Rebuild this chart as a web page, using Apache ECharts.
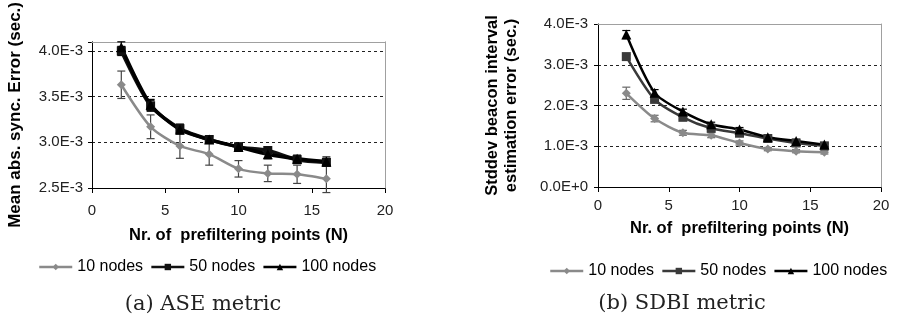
<!DOCTYPE html>
<html>
<head>
<meta charset="utf-8">
<script src="https://cdn.jsdelivr.net/npm/echarts@6/dist/echarts.min.js"></script>
<style>
  html, body { margin: 0; padding: 0; background: #ffffff; }
  #chart { width: 898px; height: 321px; }
</style>
</head>
<body>
<div id="chart"></div>
<script>
// Number of prefiltering points N
const prefilterN = [2, 4, 6, 8, 10, 12, 14, 16];
const seriesNames = ['10 nodes', '50 nodes', '100 nodes'];

// (a) ASE: mean absolute synchronisation error (seconds) and error-bar half widths
const ase10 = [3.63e-3, 3.17e-3, 2.96e-3, 2.87e-3, 2.71e-3, 2.66e-3, 2.65e-3, 2.60e-3];
const ase10Err = [0.15e-3, 0.13e-3, 0.135e-3, 0.12e-3, 0.09e-3, 0.09e-3, 0.10e-3, 0.15e-3];
const ase50 = [4.00e-3, 3.40e-3, 3.15e-3, 3.03e-3, 2.95e-3, 2.91e-3, 2.81e-3, 2.78e-3];
const ase50Err = [0.05e-3, 0.06e-3, 0.05e-3, 0.04e-3, 0.04e-3, 0.04e-3, 0.04e-3, 0.04e-3];
const ase100 = [4.04e-3, 3.41e-3, 3.14e-3, 3.03e-3, 2.95e-3, 2.87e-3, 2.82e-3, 2.79e-3];
const ase100Err = [0.06e-3, 0.06e-3, 0.05e-3, 0.04e-3, 0.04e-3, 0.05e-3, 0.04e-3, 0.05e-3];

// (b) SDBI: stddev of beacon interval estimation error (seconds)
const sdbi10 = [2.30e-3, 1.68e-3, 1.33e-3, 1.27e-3, 1.08e-3, 0.93e-3, 0.88e-3, 0.85e-3];
const sdbi10Err = [0.15e-3, 0.08e-3, 0.06e-3, 0.06e-3, 0.05e-3, 0.04e-3, 0.04e-3, 0.04e-3];
const sdbi50 = [3.20e-3, 2.15e-3, 1.71e-3, 1.44e-3, 1.32e-3, 1.19e-3, 1.08e-3, 1.01e-3];
const sdbi50Err = [0.05e-3, 0.05e-3, 0.05e-3, 0.04e-3, 0.04e-3, 0.04e-3, 0.04e-3, 0.04e-3];
const sdbi100 = [3.74e-3, 2.31e-3, 1.85e-3, 1.54e-3, 1.41e-3, 1.22e-3, 1.13e-3, 1.04e-3];
const sdbi100Err = [0.10e-3, 0.08e-3, 0.06e-3, 0.05e-3, 0.05e-3, 0.05e-3, 0.04e-3, 0.04e-3];

const FONT = 'Liberation Sans, Arial, sans-serif';
const GRAY = '#8a8a8a';

function sciLabel(step) {
  return function (v) {
    const k = v / step;
    if (Math.abs(k - Math.round(k)) > 1e-6) return '';
    return v.toExponential(1).toUpperCase();
  };
}

function pairs(vals) {
  return prefilterN.map((n, i) => [n, vals[i]]);
}

function errData(vals, errs) {
  return prefilterN.map((n, i) => [n, vals[i] - errs[i], vals[i] + errs[i]]);
}

function errorSeries(xi, yi, vals, errs, color) {
  return {
    type: 'custom',
    xAxisIndex: xi, yAxisIndex: yi,
    silent: true, z: 3,
    data: errData(vals, errs),
    renderItem: function (params, api) {
      const top = api.coord([api.value(0), api.value(2)]);
      const bot = api.coord([api.value(0), api.value(1)]);
      const w = 4;
      const style = { stroke: color, lineWidth: 1.2 };
      return {
        type: 'group',
        children: [
          { type: 'line', shape: { x1: top[0], y1: top[1], x2: bot[0], y2: bot[1] }, style: style },
          { type: 'line', shape: { x1: top[0] - w, y1: top[1], x2: top[0] + w, y2: top[1] }, style: style },
          { type: 'line', shape: { x1: bot[0] - w, y1: bot[1], x2: bot[0] + w, y2: bot[1] }, style: style }
        ]
      };
    }
  };
}

function lineSeries(name, xi, yi, vals, color, symbol, size, width) {
  return {
    name: name, type: 'line',
    xAxisIndex: xi, yAxisIndex: yi,
    data: pairs(vals),
    smooth: 0.25,
    symbol: symbol, symbolSize: size,
    itemStyle: { color: color },
    lineStyle: { color: color, width: width },
    z: 4
  };
}

function bottomX(gi, labelMargin, nameGap) {
  return {
    type: 'value', gridIndex: gi, min: 0, max: 20, interval: 5,
    axisLine: { onZero: false, lineStyle: { color: '#000', width: 1 } },
    axisTick: { show: true, length: 5, lineStyle: { color: '#000' } },
    axisLabel: { margin: labelMargin, fontFamily: FONT, fontSize: 15, color: '#222' },
    splitLine: { show: false },
    name: 'Nr. of  prefiltering points (N)', nameLocation: 'middle', nameGap: nameGap,
    nameTextStyle: { fontFamily: FONT, fontSize: 16.5, fontWeight: 'bold', color: '#000' }
  };
}

function frameX(gi) {
  return {
    type: 'value', gridIndex: gi, position: 'top', min: 0, max: 20, z: 2,
    axisLine: { onZero: false, lineStyle: { color: '#a0a0a0', width: 1 } },
    axisTick: { show: false }, axisLabel: { show: false }, splitLine: { show: false }
  };
}

function frameY(gi, min, max) {
  return {
    type: 'value', gridIndex: gi, position: 'right', min: min, max: max, z: 2,
    axisLine: { show: true, onZero: false, lineStyle: { color: '#a0a0a0', width: 1 } },
    axisTick: { show: false }, axisLabel: { show: false }, splitLine: { show: false }
  };
}

const legendText = { fontFamily: FONT, fontSize: 16, color: '#000' };

function legendItems(midColor) {
  return [
    { name: seriesNames[0], itemStyle: { color: GRAY }, lineStyle: { color: GRAY, width: 2.5 } },
    { name: seriesNames[1], itemStyle: { color: midColor }, lineStyle: { color: midColor, width: 2.5 } },
    { name: seriesNames[2], itemStyle: { color: '#000' }, lineStyle: { color: '#000', width: 2.5 } }
  ];
}

const option = {
  animation: false,
  backgroundColor: '#ffffff',
  grid: [
    { left: 92, top: 26, width: 293, height: 162 },
    { left: 598, top: 24, width: 283, height: 163 }
  ],
  xAxis: [bottomX(0, 15, 39), bottomX(1, 11, 33), frameX(0), frameX(1)],
  yAxis: [
    {
      type: 'value', gridIndex: 0, min: 0.0025, max: 0.0041, interval: 0.0005,
      axisLine: { show: true, onZero: false, lineStyle: { color: '#000' } },
      axisTick: { show: true, length: 4, lineStyle: { color: '#000' } },
      axisLabel: { fontFamily: FONT, fontSize: 15, color: '#222', margin: 9, formatter: sciLabel(0.0005) },
      splitLine: { show: true, lineStyle: { color: '#222', type: [3, 3], width: 1 } },
      name: 'Mean abs. sync. Error (sec.)', nameLocation: 'middle', nameRotate: 90, nameGap: 68,
      nameTextStyle: { fontFamily: FONT, fontSize: 17, fontWeight: 'bold', color: '#000' }
    },
    {
      type: 'value', gridIndex: 1, min: 0, max: 0.004, interval: 0.001,
      axisLine: { show: true, onZero: false, lineStyle: { color: '#000' } },
      axisTick: { show: true, length: 4, lineStyle: { color: '#000' } },
      axisLabel: { fontFamily: FONT, fontSize: 15, color: '#222', margin: 10, formatter: sciLabel(0.001) },
      splitLine: { show: true, lineStyle: { color: '#222', type: [3, 3], width: 1 } },
      name: 'Stddev beacon interval\nestimation error (sec.)', nameLocation: 'middle', nameRotate: 90, nameGap: 77,
      nameTextStyle: { fontFamily: FONT, fontSize: 16.5, fontWeight: 'bold', color: '#000', lineHeight: 19 }
    },
    frameY(0, 0.0025, 0.0041),
    frameY(1, 0, 0.004)
  ],
  legend: [
    {
      left: 38, top: 259, width: 420, padding: 0, itemWidth: 33, itemHeight: 8, itemGap: 7,
      textStyle: legendText,
      data: legendItems('#111')
    },
    {
      left: 549, top: 263, width: 420, padding: 0, itemWidth: 33, itemHeight: 8, itemGap: 7,
      textStyle: legendText,
      data: legendItems('#3a3a3a')
    }
  ],
  graphic: [
    { type: 'text', style: { text: '(a) ASE metric', x: 203, y: 305, align: 'center', verticalAlign: 'middle', font: '21px "DejaVu Serif", serif', fill: '#222' } },
    { type: 'text', style: { text: '(b) SDBI metric', x: 682, y: 304, align: 'center', verticalAlign: 'middle', font: '21px "DejaVu Serif", serif', fill: '#222' } }
  ],
  series: [
    errorSeries(0, 0, ase10, ase10Err, '#444'),
    errorSeries(0, 0, ase50, ase50Err, '#000'),
    errorSeries(0, 0, ase100, ase100Err, '#000'),
    lineSeries(seriesNames[0], 0, 0, ase10, GRAY, 'diamond', 9, 2.5),
    lineSeries(seriesNames[1], 0, 0, ase50, '#111', 'rect', 9, 3.5),
    lineSeries(seriesNames[2], 0, 0, ase100, '#000', 'triangle', 10, 3.5),

    errorSeries(1, 1, sdbi10, sdbi10Err, '#666'),
    errorSeries(1, 1, sdbi50, sdbi50Err, '#333'),
    errorSeries(1, 1, sdbi100, sdbi100Err, '#000'),
    lineSeries(seriesNames[0], 1, 1, sdbi10, GRAY, 'diamond', 9, 2.5),
    lineSeries(seriesNames[1], 1, 1, sdbi50, '#3a3a3a', 'rect', 9, 2.5),
    lineSeries(seriesNames[2], 1, 1, sdbi100, '#000', 'triangle', 10, 2.5)
  ]
};

const chart = echarts.init(document.getElementById('chart'), null, { renderer: 'canvas' });
chart.setOption(option);
</script>
</body>
</html>
